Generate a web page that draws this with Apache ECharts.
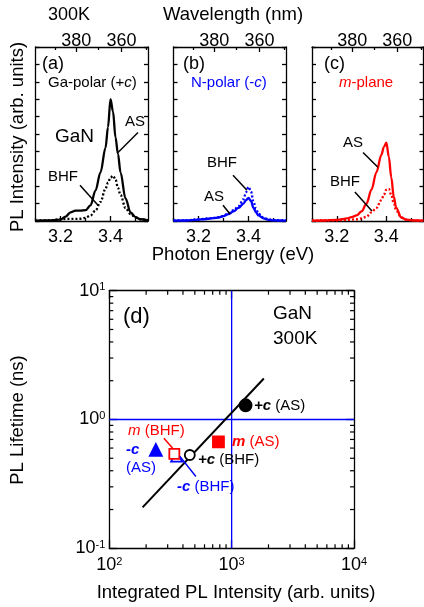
<!DOCTYPE html>
<html>
<head>
<meta charset="utf-8">
<script src="https://cdn.jsdelivr.net/npm/echarts@6.0.0/dist/echarts.min.js"></script>
<style>html,body{margin:0;padding:0;background:#fff}#chart{width:424px;height:607px}</style>
</head>
<body>
<div id="chart"></div>
<script>
const FONT = '"Liberation Sans", Arial, Helvetica, sans-serif';

// photon energy grid (eV) shared by the spectra
const energy = [3.10, 3.15, 3.20, 3.22, 3.24, 3.26, 3.28, 3.30, 3.32, 3.34, 3.36, 3.38, 3.39, 3.40, 3.41, 3.42, 3.43, 3.44, 3.46, 3.48, 3.50, 3.52, 3.55];
// PL spectra, arb. units (AS = as-grown, BHF = BHF treated)
const gaPolarAS  = [0.02, 0.03, 0.08, 0.25, 0.50, 0.60, 0.60, 0.62, 0.90, 1.75, 2.80, 4.20, 5.40, 7.00, 6.30, 4.80, 3.85, 2.80, 1.30, 0.50, 0.22, 0.10, 0.03];
const gaPolarBHF = [0.02, 0.04, 0.10, 0.12, 0.12, 0.12, 0.13, 0.18, 0.32, 0.60, 1.10, 1.85, 2.20, 2.50, 2.60, 2.40, 1.90, 1.50, 0.75, 0.40, 0.20, 0.10, 0.03];
const nPolarAS   = [0.02, 0.03, 0.08, 0.10, 0.13, 0.17, 0.20, 0.28, 0.40, 0.55, 0.75, 1.00, 1.20, 1.33, 1.15, 0.75, 0.50, 0.32, 0.15, 0.07, 0.04, 0.03, 0.02];
const nPolarBHF  = [0.03, 0.04, 0.10, 0.12, 0.15, 0.18, 0.22, 0.30, 0.45, 0.62, 0.85, 1.25, 1.65, 1.96, 1.70, 1.10, 0.70, 0.42, 0.20, 0.10, 0.06, 0.04, 0.03];
const mPlaneAS   = [0.02, 0.03, 0.07, 0.10, 0.15, 0.22, 0.32, 0.55, 1.00, 1.80, 2.80, 3.80, 4.25, 4.50, 3.70, 2.50, 1.40, 0.75, 0.20, 0.08, 0.04, 0.03, 0.02];
const mPlaneBHF  = [0.02, 0.03, 0.04, 0.05, 0.06, 0.08, 0.10, 0.15, 0.25, 0.50, 0.75, 1.20, 1.50, 1.80, 1.85, 1.50, 1.00, 0.60, 0.20, 0.08, 0.05, 0.03, 0.02];

const energyTicks = [3.2, 3.4];
const energyMinorTicks = [3.1, 3.3, 3.5];
const wavelengthTicks = [380, 360];
const wavelengthMinorTicks = [390, 370, 350];

// panel (d)
const sampleNames  = ['-c (AS)', '-c (BHF)', 'm (BHF)', 'm (AS)', '+c (BHF)', '+c (AS)'];
const integratedPL = [240, 355, 340, 780, 455, 1300];
const lifetimeNs   = [0.58, 0.52, 0.54, 0.67, 0.53, 1.29];
const fitPL  = [187, 1833];
const fitTau = [0.208, 2.08];
const refPL  = 1000;
const refTau = 1;
const plMinorTicks = [200, 300, 400, 500, 600, 700, 800, 900, 2000, 3000, 4000, 5000, 6000, 7000, 8000, 9000];
const tauMinorTicks = [0.2, 0.3, 0.4, 0.5, 0.6, 0.7, 0.8, 0.9, 2, 3, 4, 5, 6, 7, 8, 9];

const HC = 1239.84;
const markerStyle = {
  '-c (AS)':  { symbol: 'triangle', size: 12, color: '#0000ff', border: '#0000ff' },
  '-c (BHF)': { symbol: 'triangle', size: 11, color: '#ffffff', border: '#0000ff' },
  'm (BHF)':  { symbol: 'rect', size: 10, color: '#ffffff', border: '#ff0000' },
  'm (AS)':   { symbol: 'rect', size: 11, color: '#ff0000', border: '#ff0000' },
  '+c (BHF)': { symbol: 'circle', size: 10, color: '#ffffff', border: '#000000' },
  '+c (AS)':  { symbol: 'circle', size: 12, color: '#000000', border: '#000000' }
};

const TOP = 47, H = 174;
const panels = [
  { left: 35.5, width: 112.5, color: '#000000', as: gaPolarAS, bhf: gaPolarBHF },
  { left: 173.5, width: 112.5, color: '#0000ff', as: nPolarAS, bhf: nPolarBHF },
  { left: 312, width: 111.5, color: '#ff0000', as: mPlaneAS, bhf: mPlaneBHF }
];
// leader lines from the labels to the curves, in data units
const topLeaders = [
  [0, [3.51, 5.09], [3.43, 3.94]],
  [0, [3.278, 2.06], [3.35, 0.91]],
  [1, [3.338, 2.63], [3.394, 1.77]],
  [1, [3.298, 0.91], [3.326, 0.40]],
  [2, [3.306, 3.94], [3.366, 3.09]],
  [2, [3.273, 1.66], [3.342, 0.57]]
];
const dLeaders = [
  [[279.6, 0.714], [329.4, 0.597], '#ff0000'],
  [[510, 0.361], [377.6, 0.517], '#0000ff']
];

const axisLineStyle = { color: '#000', width: 1.3 };
const grid = [], xAxis = [], yAxis = [], series = [];

panels.forEach((p, g) => {
  grid.push({ left: p.left, top: TOP, width: p.width, height: H, show: false });
  const base = { gridIndex: g, type: 'value', min: 3.1, max: 3.55, splitLine: { show: false } };
  xAxis.push(Object.assign({}, base, {
    position: 'bottom', axisLine: { onZero: false, lineStyle: axisLineStyle },
    axisTick: { inside: true, length: 5, lineStyle: axisLineStyle, customValues: energyTicks },
    axisLabel: { customValues: energyTicks, formatter: v => v.toFixed(1), fontSize: 18, fontFamily: FONT, color: '#000', margin: 7 }
  }));
  xAxis.push(Object.assign({}, base, {
    position: 'bottom', axisLine: { show: false, onZero: false },
    axisTick: { inside: true, length: 3, lineStyle: axisLineStyle, customValues: energyMinorTicks },
    axisLabel: { show: false }
  }));
  const wl = wavelengthTicks.map(w => HC / w);
  xAxis.push(Object.assign({}, base, {
    position: 'top', axisLine: { onZero: false, lineStyle: axisLineStyle },
    axisTick: { inside: true, length: 5, lineStyle: axisLineStyle, customValues: wl },
    axisLabel: { customValues: wl, formatter: v => String(Math.round(HC / v)), fontSize: 18, fontFamily: FONT, color: '#000', margin: -3 }
  }));
  xAxis.push(Object.assign({}, base, {
    position: 'top', axisLine: { show: false, onZero: false },
    axisTick: { inside: true, length: 3, lineStyle: axisLineStyle, customValues: wavelengthMinorTicks.map(w => HC / w) },
    axisLabel: { show: false }
  }));
  ['left', 'right'].forEach(pos => {
    yAxis.push({
      gridIndex: g, type: 'value', min: 0, max: 10, interval: 1, position: pos,
      axisLine: { show: true, onZero: false, lineStyle: axisLineStyle },
      axisTick: { inside: true, length: 4, lineStyle: axisLineStyle },
      axisLabel: { show: false }, splitLine: { show: false }
    });
  });
  const xi = g * 4, yi = g * 2;
  series.push({
    type: 'line', xAxisIndex: xi, yAxisIndex: yi, data: energy.map((e, i) => [e, p.as[i]]),
    smooth: 0.35, smoothMonotone: 'x', symbol: 'none', lineStyle: { color: p.color, width: 2.3 }, z: 3
  });
  series.push({
    type: 'line', xAxisIndex: xi, yAxisIndex: yi, data: energy.map((e, i) => [e, p.bhf[i]]),
    smooth: 0.35, smoothMonotone: 'x', symbol: 'none', lineStyle: { color: p.color, width: 2.3, type: [2, 2] }, z: 4
  });
});

topLeaders.forEach(([g, a, b]) => {
  series.push({
    type: 'line', xAxisIndex: g * 4, yAxisIndex: g * 2, data: [a, b], symbol: 'none',
    lineStyle: { color: '#000', width: 1.5 }, z: 5, silent: true
  });
});

// panel (d)
grid.push({ left: 109.3, top: 290.7, width: 244.7, height: 257.6, show: false });
const supLabel = v => {
  const e = Math.round(Math.log10(v));
  return '{b|10}{s|' + e + '}';
};
const supRich = {
  b: { fontSize: 18, fontFamily: FONT, color: '#000' },
  s: { fontSize: 11, fontFamily: FONT, color: '#000', verticalAlign: 'top' }
};
['bottom', 'top'].forEach(pos => {
  xAxis.push({
    gridIndex: 3, type: 'log', logBase: 10, min: 100, max: 10000, position: pos,
    axisLine: { onZero: false, lineStyle: axisLineStyle },
    axisTick: { inside: true, length: 8, lineStyle: axisLineStyle },
    axisLabel: pos === 'bottom' ? { formatter: supLabel, rich: supRich, margin: 8 } : { show: false },
    splitLine: { show: false }
  });
});
['left', 'right'].forEach(pos => {
  yAxis.push({
    gridIndex: 3, type: 'log', logBase: 10, min: 0.1, max: 10, position: pos,
    axisLine: { onZero: false, lineStyle: axisLineStyle },
    axisTick: { inside: true, length: 8, lineStyle: axisLineStyle },
    axisLabel: pos === 'left' ? { formatter: supLabel, rich: supRich, margin: 4 } : { show: false },
    splitLine: { show: false }
  });
});
const DX = 12, DY = 6;
// minor log ticks on all four sides
series.push({
  type: 'custom', xAxisIndex: DX, yAxisIndex: DY, silent: true, z: 2,
  data: plMinorTicks.map(v => [v, 0.5]),
  renderItem: (params, api) => {
    const b = api.coord([api.value(0), 0.1]), t = api.coord([api.value(0), 10]);
    const st = { stroke: '#000', lineWidth: 1.2 };
    return { type: 'group', children: [
      { type: 'line', shape: { x1: b[0], y1: b[1], x2: b[0], y2: b[1] - 4 }, style: st },
      { type: 'line', shape: { x1: t[0], y1: t[1], x2: t[0], y2: t[1] + 4 }, style: st }
    ] };
  }
});
series.push({
  type: 'custom', xAxisIndex: DX, yAxisIndex: DY, silent: true, z: 2,
  data: tauMinorTicks.map(v => [1000, v]),
  renderItem: (params, api) => {
    const l = api.coord([100, api.value(1)]), r = api.coord([10000, api.value(1)]);
    const st = { stroke: '#000', lineWidth: 1.2 };
    return { type: 'group', children: [
      { type: 'line', shape: { x1: l[0], y1: l[1], x2: l[0] + 4, y2: l[1] }, style: st },
      { type: 'line', shape: { x1: r[0], y1: r[1], x2: r[0] - 4, y2: r[1] }, style: st }
    ] };
  }
});
// reference lines at 10^3 and 1 ns
series.push({
  type: 'line', xAxisIndex: DX, yAxisIndex: DY, data: [[refPL, 0.1], [refPL, 10]],
  symbol: 'none', lineStyle: { color: '#0000ff', width: 1.3 }, z: 1, silent: true
});
series.push({
  type: 'line', xAxisIndex: DX, yAxisIndex: DY, data: [[100, refTau], [10000, refTau]],
  symbol: 'none', lineStyle: { color: '#0000ff', width: 1.3 }, z: 1, silent: true
});
series.push({
  type: 'line', xAxisIndex: DX, yAxisIndex: DY, data: fitPL.map((x, i) => [x, fitTau[i]]),
  symbol: 'none', lineStyle: { color: '#000', width: 2 }, z: 3, silent: true
});
dLeaders.forEach(([a, b, c]) => {
  series.push({
    type: 'line', xAxisIndex: DX, yAxisIndex: DY, data: [a, b], symbol: 'none',
    lineStyle: { color: c, width: 1.5 }, z: 5, silent: true
  });
});
sampleNames.forEach((name, i) => {
  const m = markerStyle[name];
  series.push({
    type: 'scatter', name, xAxisIndex: DX, yAxisIndex: DY, data: [[integratedPL[i], lifetimeNs[i]]],
    symbol: m.symbol, symbolSize: m.size, z: 4 + i * 0.1,
    itemStyle: { color: m.color, borderColor: m.border, borderWidth: 1.8, opacity: 1 }
  });
});

function label(x, y, parts, o) {
  o = o || {};
  const size = o.size || 15, color = o.color || '#000', align = o.align || 'left';
  const rich = {};
  const text = parts.map((p, k) => {
    const str = Array.isArray(p) ? p[0] : p;
    const st = Array.isArray(p) ? p[1] : '';
    rich['t' + k] = {
      fontSize: size, fontFamily: FONT, fill: color,
      fontStyle: st.indexOf('i') >= 0 ? 'italic' : 'normal',
      fontWeight: st.indexOf('b') >= 0 ? 'bold' : 'normal'
    };
    return '{t' + k + '|' + str + '}';
  }).join('');
  return {
    type: 'text', x, y, rotation: o.rot || 0, silent: true, z: 100,
    style: { text, rich, fontSize: size, fontFamily: FONT, fill: color,
      align, verticalAlign: 'middle', textAlign: align, textVerticalAlign: 'middle' }
  };
}

const graphics = [
  label(69, 15, ['300K'], { size: 18, align: 'center' }),
  label(233, 15, ['Wavelength (nm)'], { size: 18.5, align: 'center' }),
  label(18, 137, ['PL Intensity (arb. units)'], { size: 18.5, align: 'center', rot: Math.PI / 2 }),
  label(233, 255, ['Photon Energy (eV)'], { size: 18.5, align: 'center' }),
  label(42, 64, ['(a)'], { size: 18 }),
  label(183, 64, ['(b)'], { size: 18 }),
  label(324, 64, ['(c)'], { size: 18 }),
  label(48, 83, ['Ga-polar (+', ['c', 'i'], ')']),
  label(191, 83, ['N-polar (-', ['c', 'i'], ')'], { color: '#0000ff' }),
  label(339, 83, [['m', 'i'], '-plane'], { color: '#ff0000' }),
  label(55, 137, ['GaN'], { size: 19 }),
  label(125, 122, ['AS']),
  label(48, 177, ['BHF']),
  label(207, 163, ['BHF']),
  label(204, 197, ['AS']),
  label(343, 143, ['AS']),
  label(330, 182, ['BHF']),
  label(123, 317, ['(d)'], { size: 22 }),
  label(273, 314, ['GaN'], { size: 19 }),
  label(273, 339, ['300K'], { size: 19 }),
  label(254, 406, [['+c', 'bi'], ' (AS)']),
  label(232, 442, [['m', 'bi'], ' (AS)'], { color: '#ff0000' }),
  label(198, 460, [['+c', 'bi'], ' (BHF)']),
  label(128, 431, [['m', 'i'], ' (BHF)'], { color: '#ff0000' }),
  label(126, 450, [['-c', 'bi']], { color: '#0000ff' }),
  label(126, 468, ['(AS)'], { color: '#0000ff' }),
  label(177, 487, [['-c', 'bi'], ' (BHF)'], { color: '#0000ff' }),
  label(236, 593, ['Integrated PL Intensity (arb. units)'], { size: 18.5, align: 'center' }),
  label(18, 420, ['PL Lifetime (ns)'], { size: 18.5, align: 'center', rot: Math.PI / 2 })
];

const chart = echarts.init(document.getElementById('chart'));
chart.setOption({
  animation: false,
  backgroundColor: '#fff',
  grid, xAxis, yAxis, series,
  graphic: graphics
});
</script>
</body>
</html>
